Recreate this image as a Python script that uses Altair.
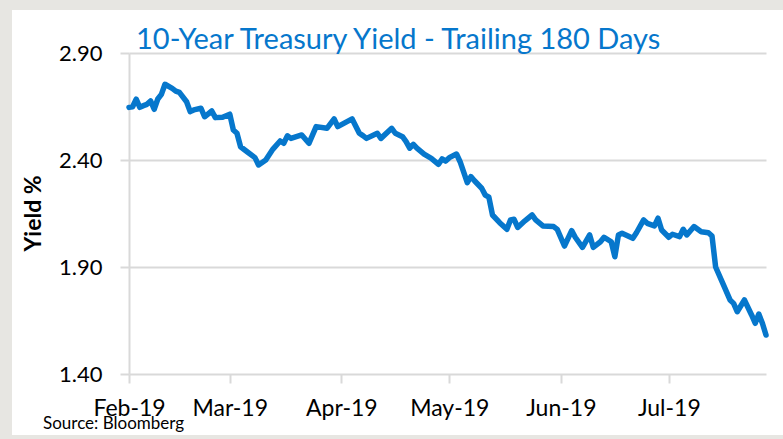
import altair as alt
import pandas as pd

dates = [
    "2019-02-01", "2019-02-02", "2019-02-03", "2019-02-04", "2019-02-05", "2019-02-06",
    "2019-02-07", "2019-02-08", "2019-02-09", "2019-02-10", "2019-02-11", "2019-02-13",
    "2019-02-14", "2019-02-15", "2019-02-17", "2019-02-18", "2019-02-19", "2019-02-21",
    "2019-02-22", "2019-02-24", "2019-02-25", "2019-02-27", "2019-03-01", "2019-03-02",
    "2019-03-03", "2019-03-04", "2019-03-06", "2019-03-08", "2019-03-09", "2019-03-11",
    "2019-03-13", "2019-03-15", "2019-03-16", "2019-03-17", "2019-03-18", "2019-03-21",
    "2019-03-23", "2019-03-25", "2019-03-28", "2019-03-30", "2019-03-31", "2019-04-04",
    "2019-04-06", "2019-04-07", "2019-04-08", "2019-04-11", "2019-04-12", "2019-04-15",
    "2019-04-16", "2019-04-18", "2019-04-19", "2019-04-20", "2019-04-21", "2019-04-22",
    "2019-04-24", "2019-04-26", "2019-04-28", "2019-04-29", "2019-04-30", "2019-05-01",
    "2019-05-03", "2019-05-04", "2019-05-06", "2019-05-07", "2019-05-08", "2019-05-10",
    "2019-05-11", "2019-05-12", "2019-05-13", "2019-05-15", "2019-05-17", "2019-05-18",
    "2019-05-19", "2019-05-20", "2019-05-22", "2019-05-24", "2019-05-25", "2019-05-27",
    "2019-05-30", "2019-05-31", "2019-06-02", "2019-06-04", "2019-06-05", "2019-06-07",
    "2019-06-09", "2019-06-10", "2019-06-12", "2019-06-13", "2019-06-15", "2019-06-16",
    "2019-06-17", "2019-06-18", "2019-06-21", "2019-06-22", "2019-06-24", "2019-06-25",
    "2019-06-27", "2019-06-28", "2019-06-29", "2019-07-01", "2019-07-02", "2019-07-04",
    "2019-07-05", "2019-07-06", "2019-07-08", "2019-07-10", "2019-07-12", "2019-07-13",
    "2019-07-14", "2019-07-16", "2019-07-18", "2019-07-19", "2019-07-20", "2019-07-22",
    "2019-07-24", "2019-07-25", "2019-07-26", "2019-07-27", "2019-07-28",
]

yields = [
    2.646, 2.649, 2.684, 2.646, 2.654, 2.660,
    2.676, 2.637, 2.685, 2.707, 2.754, 2.735,
    2.722, 2.716, 2.672, 2.626, 2.634, 2.642,
    2.602, 2.629, 2.598, 2.600, 2.614, 2.540,
    2.525, 2.462, 2.436, 2.411, 2.377, 2.400,
    2.451, 2.489, 2.478, 2.513, 2.501, 2.517,
    2.478, 2.556, 2.548, 2.592, 2.556, 2.592,
    2.525, 2.514, 2.501, 2.525, 2.501, 2.548,
    2.525, 2.509, 2.486, 2.455, 2.473, 2.455,
    2.427, 2.408, 2.380, 2.405, 2.395, 2.411,
    2.428, 2.392, 2.294, 2.322, 2.303, 2.268,
    2.236, 2.226, 2.143, 2.107, 2.076, 2.120,
    2.123, 2.085, 2.116, 2.143, 2.120, 2.092,
    2.089, 2.076, 1.998, 2.070, 2.039, 1.992,
    2.050, 1.992, 2.018, 2.039, 2.018, 1.948,
    2.050, 2.058, 2.034, 2.060, 2.120, 2.104,
    2.092, 2.128, 2.073, 2.039, 2.053, 2.042,
    2.076, 2.050, 2.089, 2.065, 2.060, 2.045,
    1.900, 1.824, 1.746, 1.730, 1.691, 1.746,
    1.676, 1.637, 1.680, 1.637, 1.582,
]

month_ticks = ["2019-02-01", "2019-03-01", "2019-04-01", "2019-05-01", "2019-06-01", "2019-07-01"]
y_ticks = [1.40, 1.90, 2.40, 2.90]
x_domain = ["2019-02-01", "2019-07-28"]

title_text = "10-Year Treasury Yield - Trailing 180 Days"
y_title = "Yield %"
source_text = "Source: Bloomberg"

BLUE = "#0677cc"
GRID = "#d9d9d9"
FRAME = "#e7e6e2"
FONT = "Lato"

df = pd.DataFrame({"date": dates, "yield": yields})


def dt(s):
    y, m, d = (int(v) for v in s.split("-"))
    return alt.DateTime(year=y, month=m, date=d, utc=True)


one = pd.DataFrame({"a": [0]})

# decorative grey frame around the white card
frame_left = alt.Chart(one).mark_rect(color=FRAME).encode(
    x=alt.value(-129), x2=alt.value(-117), y=alt.value(-53), y2=alt.value(386)
)
frame_top = alt.Chart(one).mark_rect(color=FRAME).encode(
    x=alt.value(-129), x2=alt.value(654), y=alt.value(-53), y2=alt.value(-43)
)
frame_bottom = alt.Chart(one).mark_rect(color=FRAME).encode(
    x=alt.value(-129), x2=alt.value(654), y=alt.value(382), y2=alt.value(386)
)

line = alt.Chart(df).mark_line(
    color=BLUE, strokeWidth=5.5, strokeCap="round", strokeJoin="round", clip=False
).encode(
    x=alt.X(
        "date:T",
        scale=alt.Scale(type="utc", domain=[dt(s) for s in x_domain], nice=False),
        axis=alt.Axis(
            title=None,
            values=[dt(s) for s in month_ticks],
            labelExpr="utcFormat(datum.value, '%b-%y')",
            labelOverlap=False,
            labelFlush=False,
            grid=False,
            domain=False,
            ticks=True,
            tickSize=9,
            tickColor=GRID,
            tickWidth=2,
            labelFontSize=23,
            labelFont=FONT,
            labelColor="#000000",
            labelPadding=14,
        ),
    ),
    y=alt.Y(
        "yield:Q",
        scale=alt.Scale(domain=[1.40, 2.90], nice=False, zero=False),
        axis=alt.Axis(
            title=y_title,
            values=y_ticks,
            format=".2f",
            grid=True,
            gridColor=GRID,
            gridWidth=2,
            domain=True,
            domainColor=GRID,
            domainWidth=2,
            ticks=True,
            tickSize=9,
            tickColor=GRID,
            tickWidth=2,
            labelFontSize=22,
            labelFont=FONT,
            labelColor="#000000",
            labelPadding=18,
            titleFont=FONT,
            titleFontSize=23,
            titleFontWeight="bold",
            titleColor="#000000",
            titleX=-96,
            titleY=160,
            titleAngle=-90,
            titleAlign="center",
            titleBaseline="middle",
        ),
    ),
)

title = alt.Chart(pd.DataFrame({"t": [title_text]})).mark_text(
    align="left", baseline="alphabetic", font=FONT, fontSize=29, color=BLUE
).encode(text="t:N", x=alt.value(7), y=alt.value(-4))

source = alt.Chart(pd.DataFrame({"t": [source_text]})).mark_text(
    align="left", baseline="alphabetic", font=FONT, fontSize=17, color="#000000"
).encode(text="t:N", x=alt.value(-86), y=alt.value(376))

chart = alt.layer(frame_left, frame_top, frame_bottom, line, title, source).properties(
    width=637,
    height=321,
    padding={"left": 129, "top": 53, "right": 17, "bottom": 65},
    autosize="none",
).configure(background="white").configure_view(stroke=None)

chart.save("out.html", embed_options={"renderer": "svg", "actions": False})
